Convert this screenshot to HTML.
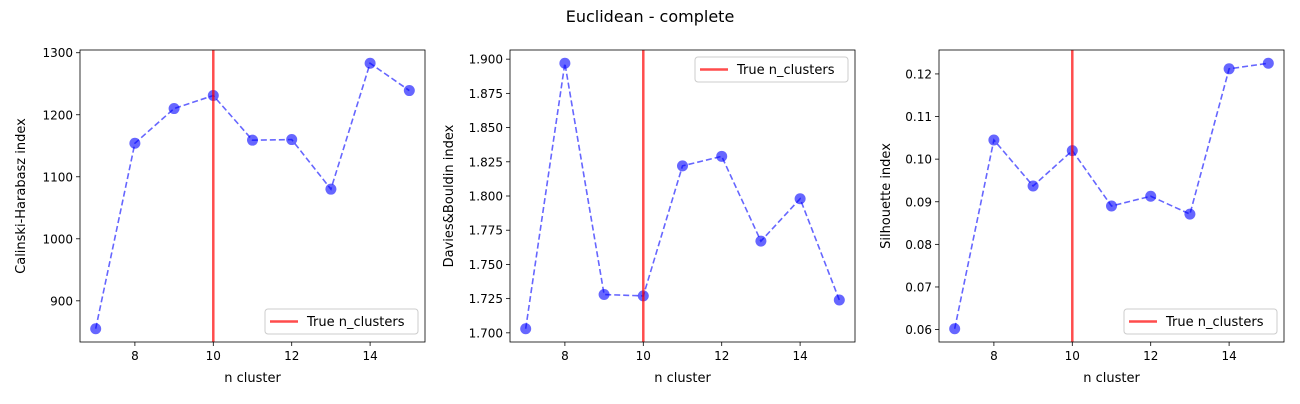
<!DOCTYPE html>
<html><head><meta charset="utf-8"><style>
body{margin:0;background:#fff;font-family:"DejaVu Sans","Liberation Sans",sans-serif;}
svg text{font-family:"DejaVu Sans","Liberation Sans",sans-serif;fill:#000}
</style></head><body>
<svg id="fig" width="1300" height="400" xmlns="http://www.w3.org/2000/svg">
<text x="650" y="22" text-anchor="middle" font-size="16">Euclidean - complete</text>
</svg>
<script>
const nClusters=[7,8,9,10,11,12,13,14,15];
const chValues=[855,1154,1210,1231,1159,1160,1080,1283,1239];
const dbValues=[1.703,1.897,1.728,1.727,1.822,1.829,1.767,1.798,1.724];
const silValues=[0.0602,0.1045,0.0937,0.1020,0.0890,0.0913,0.0871,0.1212,0.1225];
const chTicks=[900,1000,1100,1200,1300];
const dbTicks=[1.700,1.725,1.750,1.775,1.800,1.825,1.850,1.875,1.900];
const silTicks=[0.06,0.07,0.08,0.09,0.10,0.11,0.12];
const xTicks=[8,10,12,14];
const trueN=10;
const NS='http://www.w3.org/2000/svg';
const svg=document.getElementById('fig');
function mk(tag,attrs,parent){const e=document.createElementNS(NS,tag);for(const k in attrs)e.setAttribute(k,attrs[k]);(parent||svg).appendChild(e);return e;}
function panel(name,left,vals,ticks,dec,ylabel,legendTop){
  const L=left,R=left+345,T=50,B=342;
  const g=mk('g',{});
  
  
  const xmin=Math.min(...nClusters),xmax=Math.max(...nClusters),xm=(xmax-xmin)*0.05;
  const ymin=Math.min(...vals),ymax=Math.max(...vals),ym=(ymax-ymin)*0.05;
  const sx=v=>L+(v-(xmin-xm))/((xmax+xm)-(xmin-xm))*(R-L);
  const sy=v=>B-(v-(ymin-ym))/((ymax+ym)-(ymin-ym))*(B-T);
  xTicks.forEach(t=>{const x=sx(t);
    const l=mk('line',{x1:x,x2:x,y1:B,y2:B+4,stroke:'#000','stroke-width':0.8},g);
    
    const tx=mk('text',{x:x,y:B+18,'text-anchor':'middle','font-size':12},g);tx.textContent=t;
    });
  ticks.forEach(t=>{const y=sy(t);
    const l=mk('line',{x1:L-4,x2:L,y1:y,y2:y,stroke:'#000','stroke-width':0.8},g);
    
    const tx=mk('text',{x:L-7,y:y+4.5,'text-anchor':'end','font-size':12},g);tx.textContent=t.toFixed(dec);
    });
  const xl=mk('text',{x:(L+R)/2,y:382,'text-anchor':'middle','font-size':13},g);xl.textContent='n cluster';
  
  const yx=L-(dec===0?55:57)+(dec===2?8:0);
  const yl=mk('text',{x:yx,y:(T+B)/2,'text-anchor':'middle','font-size':13,transform:`rotate(-90 ${yx} ${(T+B)/2})`},g);yl.textContent=ylabel;
  
  const pts=nClusters.map((n,i)=>sx(n)+','+sy(vals[i])).join(' ');
  const pl=mk('polyline',{points:pts,fill:'none',stroke:'rgba(0,0,255,0.6)','stroke-width':1.6,'stroke-dasharray':'6,3'},g);
  
  nClusters.forEach((n,i)=>{const c=mk('circle',{cx:sx(n),cy:sy(vals[i]),r:5.5,fill:'rgba(0,0,255,0.6)'},g);
    });
  const vl=mk('line',{x1:sx(trueN),x2:sx(trueN),y1:T,y2:B,stroke:'rgba(255,0,0,0.7)','stroke-width':2.5},g);
  
  const fr=mk('rect',{x:L,y:T,width:R-L,height:B-T,fill:'none',stroke:'#000','stroke-width':0.8},g);
  
  const lg=mk('g',{},g);
  
  const lx=R-160;
  mk('rect',{x:lx,y:legendTop,width:153,height:25,rx:3,fill:'rgba(255,255,255,0.8)',stroke:'#ccc','stroke-width':1},lg);
  mk('line',{x1:lx+5,x2:lx+33,y1:legendTop+12.5,y2:legendTop+12.5,stroke:'rgba(255,0,0,0.7)','stroke-width':2.5},lg);
  const lt=mk('text',{x:lx+42,y:legendTop+17,'font-size':13},lg);lt.textContent='True n_clusters';
  
}
panel('calinski-harabasz-panel',80,chValues,chTicks,0,'Calinski-Harabasz index',309);
panel('davies-bouldin-panel',510,dbValues,dbTicks,3,'Davies&Bouldin index',57);
panel('silhouette-panel',939,silValues,silTicks,2,'Silhouette index',309);
</script>
</body></html>
